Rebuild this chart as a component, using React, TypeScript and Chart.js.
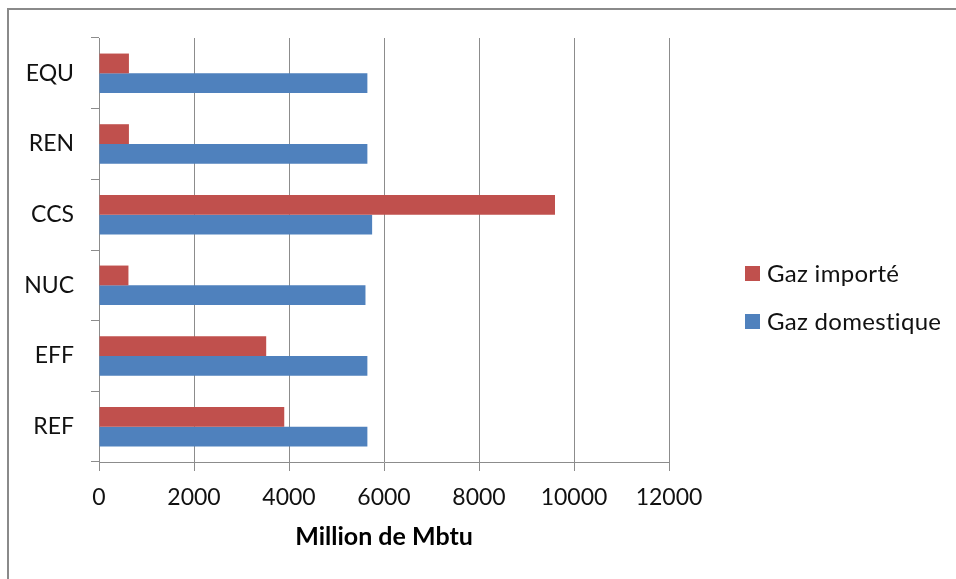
import React, { useEffect, useRef } from "react";
import { Chart, registerables } from "chart.js";

Chart.register(...registerables);

const categories = ["EQU", "REN", "CCS", "NUC", "EFF", "REF"];
const importedGas = [630, 630, 9600, 620, 3520, 3900];
const domesticGas = [5650, 5650, 5750, 5610, 5650, 5650];
const seriesNames = ["Gaz importé", "Gaz domestique"];
const seriesColors = ["#C0504D", "#4F81BD"];
const xTicks = [0, 2000, 4000, 6000, 8000, 10000, 12000];
const xTitle = "Million de Mbtu";

const FONT = "Lato, 'Open Sans', sans-serif";

const legendPlugin = {
  id: "customLegend",
  afterDraw(chart: any) {
    const ctx = chart.ctx;
    ctx.save();
    chart.data.datasets.forEach((ds: any, i: number) => {
      const y = 266 + i * 48;
      ctx.fillStyle = ds.backgroundColor;
      ctx.fillRect(745, y, 15, 15);
      ctx.fillStyle = "#111111";
      ctx.font = `24px ${FONT}`;
      try {
        (ctx as any).letterSpacing = "0.3px";
      } catch (e) {}
      ctx.textBaseline = "alphabetic";
      ctx.textAlign = "left";
      ctx.fillText(ds.label, 767, y + 15.5);
    });
    ctx.restore();
  },
};

export default function App() {
  const ref = useRef<HTMLCanvasElement>(null);
  useEffect(() => {
    if (!ref.current) return;
    const chart = new Chart(ref.current, {
      type: "bar",
      data: {
        labels: categories,
        datasets: [
          {
            label: seriesNames[0],
            data: importedGas,
            backgroundColor: seriesColors[0],
            categoryPercentage: 0.56,
            barPercentage: 1,
          },
          {
            label: seriesNames[1],
            data: domesticGas,
            backgroundColor: seriesColors[1],
            categoryPercentage: 0.56,
            barPercentage: 1,
          },
        ],
      },
      options: {
        indexAxis: "y",
        animation: false,
        responsive: false,
        maintainAspectRatio: false,
        layout: { padding: { top: 38, left: 0, right: 287, bottom: 0 } },
        plugins: {
          legend: { display: false },
          tooltip: { enabled: false },
        },
        scales: {
          x: {
            min: 0,
            max: 12000,
            afterBuildTicks: (scale: any) => {
              scale.ticks = xTicks.map((v) => ({ value: v }));
            },
            afterFit: (scale: any) => {
              scale.height = 117;
            },
            grid: {
              color: "#8c8c8c",
              lineWidth: 1,
              drawTicks: true,
              tickLength: 9,
              tickColor: "#8c8c8c",
            },
            border: { display: true, color: "#8c8c8c", width: 1 },
            ticks: {
              color: "#111111",
              padding: 13,
              font: { family: FONT, size: 23 },
              callback: (v: any) => String(v),
            },
            title: {
              display: true,
              text: xTitle,
              color: "#000000",
              font: { family: FONT, size: 25, weight: "bold" },
              padding: { top: 0, bottom: 27 },
            },
          },
          y: {
            afterFit: (scale: any) => {
              scale.width = 99;
            },
            grid: {
              offset: true,
              drawOnChartArea: false,
              drawTicks: true,
              tickLength: 8,
              tickColor: "#8c8c8c",
              color: "#8c8c8c",
            },
            border: { display: true, color: "#8c8c8c", width: 1 },
            ticks: {
              color: "#111111",
              padding: 17,
              font: { family: FONT, size: 23 },
            },
          },
        },
      },
      plugins: [legendPlugin],
    });
    return () => chart.destroy();
  }, []);

  return (
    <>
      <canvas
        ref={ref}
        width={956}
        height={579}
        style={{ position: "fixed", left: 0, top: 0, width: 956, height: 579 }}
      />
      <div
        style={{
          position: "fixed",
          left: 7,
          top: 8,
          width: 960,
          height: 580,
          borderTop: "2px solid #8a8a8a",
          borderLeft: "2px solid #8a8a8a",
          pointerEvents: "none",
        }}
      />
    </>
  );
}
